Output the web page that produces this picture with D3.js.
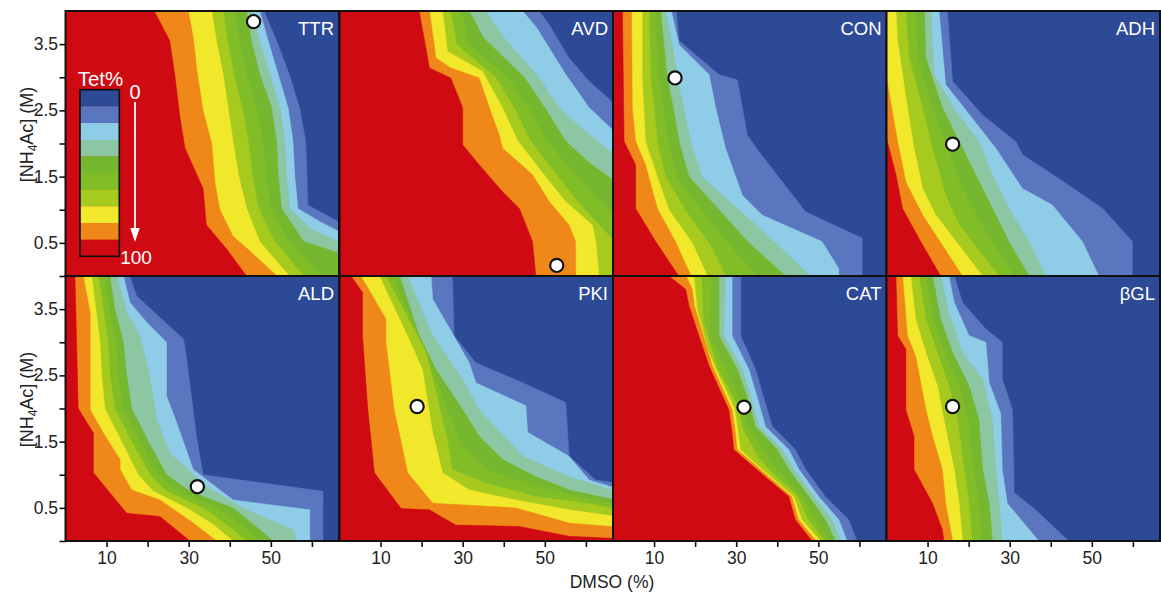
<!DOCTYPE html>
<html>
<head>
<meta charset="utf-8">
<title>Tet% contour panels</title>
<style>
  body { margin: 0; background: #fff; }
  svg { display: block; font-family: "Liberation Sans", Arial, sans-serif; }
</style>
</head>
<body>
<svg id="chart" width="1161" height="592"></svg>
<script src="https://d3js.org/d3.v7.min.js"></script>
<script>
// ---- data: Tet% contour boundaries, [DMSO %, NH4Ac M], listed top -> bottom
// each panel: 9 boundaries, outermost (dark blue | medium blue) first, innermost (orange | red) last
const panelNames = ["TTR", "AVD", "CON", "ADH", "ALD", "PKI", "CAT", "βGL"];

const ttrBounds = [
  [[48.3,4],[51.5,3.54],[54.5,3.04],[57,2.54],[58.5,2.03],[58.8,1.53],[59,1.07],[67,0.8],[70,0.75]],
  [[47.3,4],[49.4,3.54],[51.8,3.04],[54.2,2.54],[55.4,2.03],[55.8,1.53],[56.6,1.02],[62,0.82],[67,0.66],[70,0.6]],
  [[45.3,4],[47.3,3.54],[49.8,3.04],[52.2,2.54],[53.4,2.03],[53.8,1.53],[54.6,1.02],[60,0.7],[67,0.5],[70,0.45]],
  [[44.1,4],[45.3,3.54],[47.3,3.04],[50.2,2.54],[51.4,2.03],[51.8,1.53],[52.6,1.02],[58,0.52],[67,0.34],[70,0.3]],
  [[41.2,4],[42.5,3.54],[44,3.04],[46.5,2.54],[48,2.03],[48.8,1.53],[50,1.02],[54.5,0.52],[62.5,0]],
  [[38.4,4],[39.5,3.54],[41,3.04],[43,2.54],[44.5,2.03],[45.5,1.53],[47,1.02],[51,0.52],[58,0]],
  [[35.6,4],[36.8,3.54],[38.4,3.04],[39.6,2.54],[40.8,2.03],[42.1,1.53],[44.1,1.02],[47.3,0.52],[54.5,0]],
  [[29.9,4],[31.1,3.6],[32,3.1],[33.5,2.5],[35.6,2],[36.4,1.4],[37.6,1],[40.8,0.6],[44.5,0.4],[51.5,0]],
  [[21.6,4],[25.4,3.55],[26.6,3.04],[27.9,2.38],[29.1,1.93],[33.5,1.32],[34.3,0.77],[39.2,0.41],[44.1,0]]
];

const avdBounds = [
  [[48.6,4],[51,3.8],[55.9,3.29],[60.8,2.94],[66.6,2.62],[70,2.45]],
  [[44.6,4],[48,3.75],[55.1,3.04],[60.8,2.54],[66.6,2.2],[70,2.0]],
  [[35.6,4],[40,3.6],[48.5,3.0],[53.5,2.54],[59.5,2.2],[66.6,1.85],[70,1.7]],
  [[31.6,4],[35,3.6],[45,3],[50,2.54],[55,2.04],[61,1.7],[66.6,1.45],[70,1.3]],
  [[29.6,4],[31.5,3.5],[41,3],[46,2.54],[50.5,2.04],[56.5,1.6],[61.5,1.25],[66.6,0.95],[70,0.8]],
  [[27.1,4],[28.5,3.5],[38,3],[42.5,2.54],[46.5,2.04],[52,1.6],[57,1.2],[62,0.85],[66.6,0.55],[70,0.4]],
  [[25.1,4],[26.3,3.39],[34.8,3.09],[39.7,2.54],[43.4,2.04],[49.8,1.53],[55.1,1.12],[61.6,0.77],[62.4,0.52],[63.2,0]],
  [[21.9,4],[23.5,3.29],[27.1,3.14],[34,2.99],[36.5,2.54],[38.9,2.13],[39.7,1.93],[47,1.53],[51.1,1.12],[55.9,0.77],[57.5,0.52],[57.5,0]],
  [[19.4,4],[21.9,3.14],[27.1,2.99],[30,2.54],[30,1.98],[34,1.68],[39.7,1.27],[43.8,1.02],[47,0.52],[47.8,0]]
];

const conBounds = [
  [[15.4,4],[16.1,3.55],[25.8,3.04],[30.3,2.96],[32.7,2.13],[35.5,1.88],[46.9,0.97],[60.7,0.57],[60.7,0]],
  [[14.2,4],[16.1,3.49],[23.4,3.04],[25,2.54],[27.4,1.93],[31.5,1.22],[36.3,0.92],[50.9,0.52],[55,0.11],[55,0]],
  [[12.8,4],[14.4,3.5],[15.7,3],[17.3,2.5],[18.9,2.03],[21.7,1.5],[30.6,1],[39.6,0.5],[48,0]],
  [[11.6,4],[12.4,3.5],[13.2,3],[14.8,2.5],[16.1,2.03],[18.5,1.5],[25.8,1],[33.1,0.5],[42,0]],
  [[10.2,4],[11.2,3],[13.5,2.03],[15.5,1.5],[21.5,1],[28,0.5],[35,0]],
  [[8.8,4],[9.2,3],[10.8,2.03],[12.8,1.5],[17.5,1],[23.4,0.5],[27.5,0]],
  [[7.1,4],[7.1,3],[7.9,2.03],[10.8,1.5],[13.6,1.0],[19.3,0.5],[23,0]],
  [[4.5,4],[4.7,2.54],[5.5,2.03],[7.9,1.68],[10.8,1.02],[15.2,0.52],[19,0]],
  [[2.3,4],[2.7,2.03],[5.5,1.68],[5.5,1.02],[10.4,0.52],[16,0]]
];

const adhBounds = [
  [[14.8,4],[16.1,2.94],[23.4,2.43],[31.5,2.03],[33.1,1.83],[42,1.47],[52.6,1.02],[59.9,0.52],[59.9,0]],
  [[12.8,4],[14.4,2.89],[20.9,2.38],[26.6,1.93],[33.1,1.32],[40.4,1.07],[47.7,0.52],[51.7,0]],
  [[10.8,4],[11.6,3.04],[16.9,2.48],[22.5,2.03],[25.8,1.53],[29.8,1.02],[34.7,0.52],[38.8,0]],
  [[9.2,4],[9.6,3.29],[13.6,2.54],[17.7,2.03],[21.7,1.53],[25.8,1.02],[29.8,0.52],[34.7,0]],
  [[7,4],[7.6,3.29],[11.2,2.54],[14.5,2.0],[18,1.4],[22,0.9],[31,0]],
  [[4.7,4],[5.5,3.29],[8.8,2.54],[11.2,1.93],[14.4,1.22],[17.7,0.77],[27.4,0]],
  [[2.3,4],[2.7,3.55],[5.1,2.54],[6.7,1.93],[8.8,1.32],[12,0.92],[23.4,0]],
  [[0,2.99],[2.7,2.03],[4.7,1.42],[8.8,0.92],[18.5,0]],
  [[0,2.08],[2.3,1.53],[3.9,1.02],[8.5,0.5],[13.2,0]]
];

const aldBounds = [
  [[15.7,4],[17.3,3.7],[28.7,3.05],[29.1,2.94],[31.9,1.58],[33.5,1.0],[62.7,0.75],[62.7,0]],
  [[14.1,4],[15.7,3.6],[19.8,3.3],[24.6,3.0],[24.6,2.19],[27.1,1.78],[31.1,1.08],[40.8,0.62],[59.5,0.47],[59.5,0]],
  [[12.5,4],[14.9,3.45],[18.1,3.1],[20.2,2.59],[22.2,1.83],[25.4,1.33],[34.3,0.82],[44.1,0.47],[55.4,0.17],[56.2,0]],
  [[10.8,4],[12,3.5],[14.1,3],[14.9,2.5],[16.1,2],[20.2,1.5],[24.6,1],[30.3,0.75],[40.8,0.5],[45.7,0.25],[50.6,0]],
  [[9.4,4],[10.6,3.5],[12.3,3],[12.9,2.5],[14.1,2],[18.2,1.5],[22.6,1],[27.5,0.75],[37.2,0.5],[42.5,0.25],[47.4,0]],
  [[8,4],[9.2,3.5],[10.4,3],[10.8,2.5],[12,2],[16.1,1.5],[20.6,1],[24.6,0.75],[33.5,0.5],[39.2,0.25],[44.1,0]],
  [[6.4,4],[7.4,3.5],[8.4,3],[8.8,2.5],[9.6,2],[13.7,1.5],[17.7,1],[21.4,0.75],[29.5,0.5],[36,0.25],[40.8,0]],
  [[4.3,4],[6,3.45],[6,1.98],[9.2,1.63],[13.3,1.23],[13.3,1.08],[16.1,0.77],[23,0.62],[31.1,0.27],[36.8,0]],
  [[2.3,4],[3.1,2.0],[6.8,1.63],[6.8,1.03],[14.9,0.42],[23,0.37],[30.3,0]]
];

const pkiBounds = [
  [[27.5,4],[27.9,3.1],[33.2,2.69],[44.6,2.39],[55.1,2.09],[55.9,1.28],[62.4,0.92],[70,0.85]],
  [[22.3,4],[22.7,3.65],[31.6,2.69],[33.2,2.39],[45.4,2.04],[45.8,1.64],[55.9,1.28],[60.8,0.92],[70,0.75]],
  [[16.6,4],[22.7,3.1],[30,2.44],[34,1.98],[44.6,1.28],[55.9,0.97],[70,0.7]],
  [[14.6,4],[19.4,3.1],[23.5,2.59],[30,1.98],[34,1.58],[39.7,1.23],[47.8,0.97],[55.9,0.77],[70,0.58]],
  [[13,4],[20.3,2.95],[25,2.2],[30,1.4],[37,1.05],[47.8,0.83],[58,0.67],[70,0.52]],
  [[11.3,4],[21.1,2.84],[26.1,1.58],[27.5,1.08],[35.6,0.87],[47.8,0.67],[60,0.57],[70,0.45]],
  [[9.7,4],[16.6,3.09],[20.2,2.59],[22.7,1.63],[25.1,1.03],[31.6,0.77],[42.9,0.62],[55.9,0.47],[70,0.35]],
  [[5.2,4],[11.3,3.35],[11.3,3.0],[13.3,1.98],[16.6,1.03],[22.7,0.57],[42.9,0.5],[55.9,0.27],[70,0.2]],
  [[2.8,4],[5.6,3.75],[5.6,3.09],[6.9,1.98],[8.5,1.03],[15,0.49],[21.9,0.47],[28.3,0.24],[43.8,0.22],[55.9,0.07],[70,0.03]]
];

const catBounds = [
  [[31.1,4],[31.1,3.1],[34.7,2.59],[37.1,2.08],[38.8,1.73],[44.4,1.38],[46.9,1.08],[51.7,0.67],[57.4,0.32],[59.4,0]],
  [[29,4],[29,3.1],[33.1,2.59],[35.5,2.09],[37.1,1.73],[42.8,1.38],[45.3,1.08],[50.1,0.67],[55,0.32],[57,0]],
  [[27.4,4],[27,3.1],[31.5,2.59],[33.9,2.09],[35.5,1.73],[41.2,1.38],[44,1.08],[48.9,0.67],[53.4,0.32],[55.4,0]],
  [[25.8,4],[25.8,3.1],[30.3,2.59],[33.1,2.09],[34.7,1.73],[40,1.38],[42.8,1.08],[47.7,0.67],[51.7,0.32],[54.2,0]],
  [[24,4],[23.5,3.1],[27.5,2.6],[31.5,2.05],[33,1.73],[37.5,1.3],[40,1.08],[46,0.67],[49.5,0.32],[52.5,0]],
  [[21.5,4],[22,3.3],[25.5,2.6],[30.3,2.05],[31.5,1.7],[35.5,1.25],[38.5,1.05],[45,0.67],[47.5,0.32],[51.5,0]],
  [[19.7,4],[20.5,3.5],[23,2.9],[25,2.6],[29.6,2.0],[30.5,1.63],[31,1.38],[34.5,1.18],[44,0.67],[46,0.32],[50.5,0]],
  [[17.8,4],[19.3,3.8],[19.8,3.55],[22,3.1],[24.2,2.64],[29,1.98],[29.8,1.63],[30.2,1.38],[34,1.18],[43.5,0.67],[45.2,0.32],[49.5,0]],
  [[13.6,4],[17.7,3.8],[18.5,3.55],[20.9,3.1],[23.4,2.64],[28.2,1.98],[29,1.63],[29.4,1.38],[33.1,1.18],[42.8,0.67],[44.4,0.32],[48.5,0]]
];

const bglBounds = [
  [[16.5,4],[18.5,3.6],[24.2,3.2],[28.2,3.0],[28.2,2.44],[30.7,1.98],[31.1,0.73],[36.3,0.47],[44.4,0]],
  [[15.2,4],[16.5,3.6],[20.1,3.1],[24.2,3.0],[25,2.39],[27.8,1.93],[28.2,1.08],[29.4,0.57],[37.1,0]],
  [[13.2,4],[15.2,3.45],[18.5,2.84],[23.4,2.44],[25.8,1.83],[26.6,1.08],[27.4,0.57],[28.2,0]],
  [[11.2,4],[13.2,3.35],[16.1,2.84],[20.1,2.34],[22.5,1.83],[23.4,1.08],[25,0.57],[25.8,0]],
  [[9.6,4],[11.4,3.35],[14.2,2.84],[17.7,2.34],[19.9,1.83],[21.2,1.08],[22.5,0.57],[23.3,0]],
  [[7.9,4],[9.6,3.35],[12.4,2.84],[15.2,2.34],[17.3,1.83],[18.9,1.08],[20.1,0.57],[20.9,0]],
  [[5.9,4],[7.1,3.35],[9.6,2.84],[12.4,2.34],[14,1.83],[16.5,1.08],[17.7,0.57],[18.5,0]],
  [[3.9,4],[5.1,3.1],[7.1,2.79],[9.6,1.98],[11.2,1.58],[13.6,1.08],[14.4,0.57],[16.1,0]],
  [[2.3,4],[2.7,3.1],[4.7,2.9],[4.7,1.98],[6.7,1.58],[6.7,1.08],[11.2,0.57],[13.6,0.17],[14,0]]
];

// optimum conditions (white dots), [DMSO %, NH4Ac M]
const optima = [[45.8,3.84],[52.9,0.16],[15.1,2.99],[16.1,1.99],[32.1,0.82],[18.9,2.03],[31.9,2.02],[16.1,2.03]];

// Tet% colour bands, 0 (top) -> 100 (bottom)
const bandColors = ["#2d4a97","#5a76bf","#8ecce8","#8dc6a2","#76b730","#80bd27","#a6ca1d","#f1e72b","#ef8819","#cf0a12"];

const xTickValues = [10, 20, 30, 40, 50, 60];
const xTickLabels = [10, 30, 50];
const yTickValues = [0, 0.5, 1, 1.5, 2, 2.5, 3, 3.5];
const yTickLabels = [0.5, 1.5, 2.5, 3.5];

const allBounds = [ttrBounds, avdBounds, conBounds, adhBounds, aldBounds, pkiBounds, catBounds, bglBounds];

// ---- layout ----
const svg = d3.select("#chart");
const colLeft = [65.5, 339.5, 613, 886.5];
const rowTop = [11, 276];
const panelW = 273.5, panelH = 265;
const dmsoMax = 66.6;

function regionPolygon(b) {
  const first = b[0], last = b[b.length - 1];
  return [[first[0], 5], ...b, [last[0], -1], [-1, -1], [-1, 5]];
}

panelNames.forEach((name, i) => {
  const col = i % 4, row = Math.floor(i / 4);
  const x = d3.scaleLinear().domain([0, dmsoMax]).range([colLeft[col], colLeft[col] + panelW]);
  const y = d3.scaleLinear().domain([0, 4]).range([rowTop[row] + panelH, rowTop[row]]);

  const clipId = "clip" + i;
  svg.append("clipPath").attr("id", clipId)
    .append("rect")
    .attr("x", x(0)).attr("y", y(4))
    .attr("width", x(dmsoMax) - x(0)).attr("height", y(0) - y(4));

  const g = svg.append("g").attr("clip-path", `url(#${clipId})`);
  g.append("rect")
    .attr("x", x(0)).attr("y", y(4))
    .attr("width", x(dmsoMax) - x(0)).attr("height", y(0) - y(4))
    .attr("fill", bandColors[0]);

  const line = d3.line().x(d => x(d[0])).y(d => y(d[1]));
  g.selectAll("path.level")
    .data(allBounds[i])
    .join("path")
    .attr("class", "level")
    .attr("d", d => line(regionPolygon(d)) + "Z")
    .attr("fill", (d, k) => bandColors[k + 1])
    .attr("stroke", (d, k) => bandColors[k + 1])
    .attr("stroke-width", 0.5);

  // optimum dot
  g.append("circle")
    .attr("cx", x(optima[i][0])).attr("cy", y(optima[i][1]))
    .attr("r", 6.6)
    .attr("fill", "#fff")
    .attr("stroke", "#111")
    .attr("stroke-width", 2.2);

  // panel name
  svg.append("text")
    .attr("x", x(dmsoMax) - 5).attr("y", y(4) + 24)
    .attr("text-anchor", "end")
    .attr("fill", "#fff")
    .attr("font-size", "18.5px")
    .text(name);

  // x axis on bottom row
  if (row === 1) {
    const ax = svg.append("g")
      .attr("transform", `translate(0,${y(0)})`)
      .call(d3.axisBottom(x).tickValues(xTickValues).tickSize(6).tickPadding(5)
        .tickFormat(d => xTickLabels.includes(d) ? d : ""));
    ax.select(".domain").remove();
    ax.selectAll(".tick line").attr("stroke", "#111").attr("stroke-width", 1.6);
    ax.selectAll(".tick text").attr("fill", "#222").attr("font-size", "17.5px")
      .attr("font-family", "Liberation Sans, Arial, sans-serif");
  }
  // y axis on first column
  if (col === 0) {
    const ay = svg.append("g")
      .attr("transform", `translate(${x(0)},0)`)
      .call(d3.axisLeft(y).tickValues(yTickValues).tickSize(6).tickPadding(1.5)
        .tickFormat(d => yTickLabels.includes(d) ? d : ""));
    ay.select(".domain").remove();
    ay.selectAll(".tick line").attr("stroke", "#111").attr("stroke-width", 1.6);
    ay.selectAll(".tick text").attr("fill", "#222").attr("font-size", "17.5px")
      .attr("font-family", "Liberation Sans, Arial, sans-serif");

    const lab = svg.append("text")
      .attr("transform", `translate(33,${(y(0) + y(4)) / 2 - 9}) rotate(-90)`)
      .attr("text-anchor", "middle")
      .attr("fill", "#222")
      .attr("font-size", "18px");
    lab.append("tspan").text("[NH");
    lab.append("tspan").attr("font-size", "12px").attr("dy", 4).text("4");
    lab.append("tspan").attr("dy", -4).text("Ac] (M)");
  }

  // panel frame
  svg.append("rect")
    .attr("x", x(0)).attr("y", y(4))
    .attr("width", x(dmsoMax) - x(0)).attr("height", y(0) - y(4))
    .attr("fill", "none")
    .attr("stroke", "#111")
    .attr("stroke-width", 2);
});

// x axis title
svg.append("text")
  .attr("x", 612).attr("y", 588)
  .attr("text-anchor", "middle")
  .attr("fill", "#222")
  .attr("font-size", "17.5px")
  .text("DMSO (%)");

// ---- legend inside TTR panel ----
const legend = svg.append("g");
const band = d3.scaleBand().domain(d3.range(bandColors.length)).range([89.7, 256.3]);
legend.selectAll("rect.band")
  .data(bandColors)
  .join("rect")
  .attr("class", "band")
  .attr("x", 80).attr("width", 39.3)
  .attr("y", (d, k) => band(k)).attr("height", band.bandwidth() + 0.3)
  .attr("fill", d => d);
legend.append("rect")
  .attr("x", 80).attr("y", 89.7).attr("width", 39.3).attr("height", 166.6)
  .attr("fill", "none").attr("stroke", "#111").attr("stroke-width", 1.6);
legend.append("text")
  .attr("x", 100.5).attr("y", 85.5)
  .attr("text-anchor", "middle").attr("fill", "#fff").attr("font-size", "20.5px")
  .text("Tet%");
legend.append("text")
  .attr("x", 135).attr("y", 98.5)
  .attr("text-anchor", "middle").attr("fill", "#fff").attr("font-size", "20px")
  .text("0");
legend.append("text")
  .attr("x", 136).attr("y", 263.5)
  .attr("text-anchor", "middle").attr("fill", "#fff").attr("font-size", "19px")
  .text("100");
legend.append("line")
  .attr("x1", 135).attr("x2", 135).attr("y1", 102).attr("y2", 230)
  .attr("stroke", "#fff").attr("stroke-width", 1.8);
legend.append("path")
  .attr("d", "M130.3,228 L139.7,228 L135,242 Z")
  .attr("fill", "#fff");
</script>
</body>
</html>
